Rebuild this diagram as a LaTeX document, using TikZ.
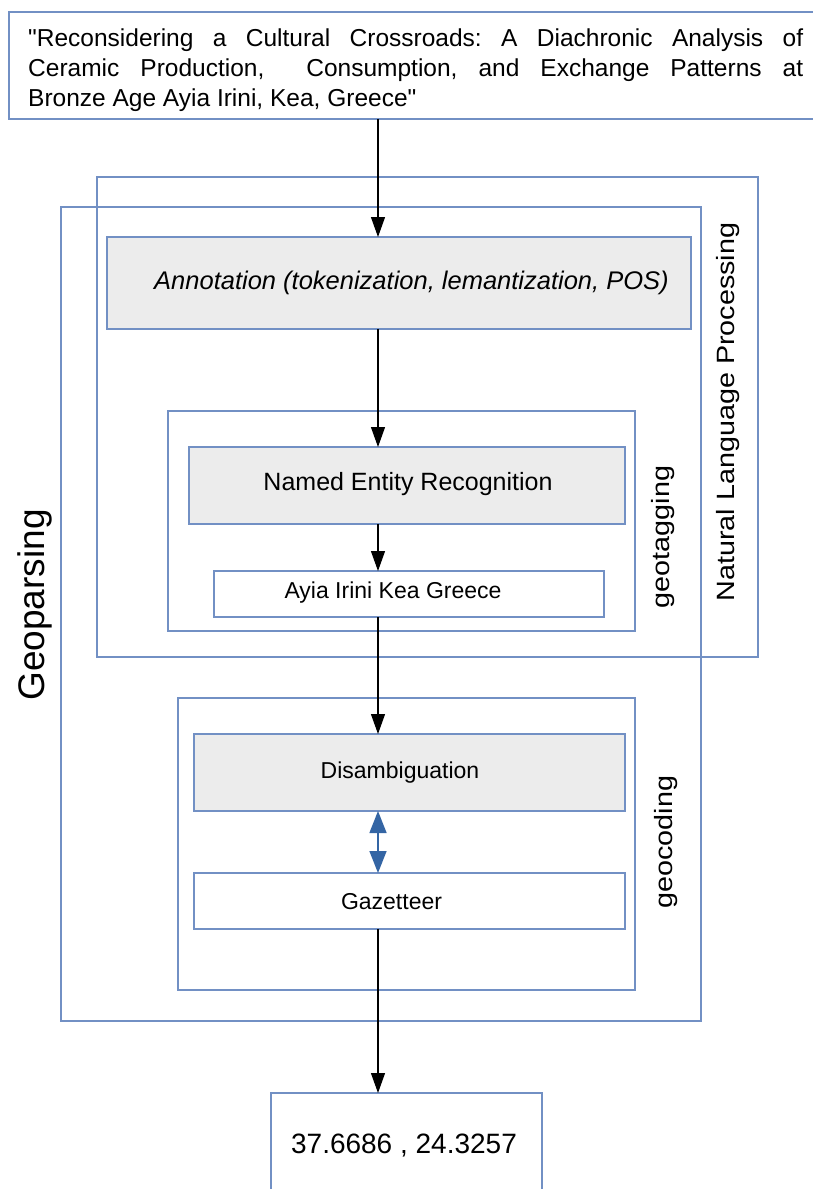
\documentclass[tikz,border=0pt]{standalone}
\usepackage{fontspec}
\usepackage{graphicx}
\setmainfont{Liberation Sans}
\newfontfamily\titlefont{Liberation Sans}[Ligatures=TeXOff]
\usetikzlibrary{arrows.meta}
\definecolor{boxblue}{RGB}{114,144,196}
\definecolor{boxgray}{RGB}{236,236,236}
\definecolor{arrblue}{RGB}{52,101,164}
\begin{document}
\frenchspacing
\begin{tikzpicture}[x=1pt,y=-1pt,
  frame/.style={draw=boxblue, line width=1.3pt, inner sep=0pt, outer sep=0pt, rectangle},
  grayframe/.style={frame, fill=boxgray},
  conn/.style={draw=black, line width=1.2pt, -{Triangle[length=20pt,width=14pt]}},
  dconn/.style={draw=arrblue, fill=arrblue, line width=1.5pt, {Triangle[length=22pt,width=17pt]}-{Triangle[length=22pt,width=17pt]}},
  sidelabel/.style={rotate=90, inner sep=0pt, font=\fontsize{25}{30}\selectfont},
  body/.style={inner sep=0pt, font=\fontsize{23}{28}\selectfont}
]
\useasboundingbox (0,0) rectangle (812,1189);

% frames
\node[frame, minimum width=813pt, minimum height=107pt] (title) at (415.5,65.5) {};
\node[frame, minimum width=661pt, minimum height=480pt] (nlp) at (427.5,417) {};
\node[frame, minimum width=640pt, minimum height=814pt] (geop) at (381,614) {};
\node[grayframe, minimum width=584pt, minimum height=92pt] (ann) at (399,283) {};
\node[frame, minimum width=467pt, minimum height=220pt] (gtag) at (401.5,521) {};
\node[grayframe, minimum width=436pt, minimum height=77pt] (ner) at (407,485.5) {};
\node[frame, minimum width=390pt, minimum height=46pt] (ayia) at (409,594) {};
\node[frame, minimum width=457pt, minimum height=292pt] (gcod) at (406.5,844) {};
\node[grayframe, minimum width=431pt, minimum height=77pt] (dis) at (409.5,772.5) {};
\node[frame, minimum width=431pt, minimum height=56pt] (gaz) at (409.5,901) {};
\node[frame, minimum width=271pt, minimum height=110pt] (res) at (406.5,1148) {};

% texts
\node[anchor=north west, inner sep=0pt, text width=775pt, align=justify,
      font=\titlefont\fontsize{24.5}{30}\selectfont] (titleT) at (28,29)
  {"Reconsidering a Cultural Crossroads: A Diachronic Analysis of\linebreak
   Ceramic Production,\ \ Consumption, and Exchange Patterns at\linebreak
   Bronze Age Ayia Irini, Kea, Greece"};
\node[body, font=\fontsize{25.5}{30}\selectfont\itshape] (annT) at (411.5,283) {Annotation (tokenization, lemantization, POS)};
\node[body, font=\fontsize{25}{30}\selectfont] (nerT) at (408,484) {Named Entity Recognition};
\node[body] (ayiaT) at (393,593) {Ayia Irini Kea Greece};
\node[body] (disT) at (400,773) {Disambiguation};
\node[body] (gazT) at (391.5,902) {Gazetteer};
\node[body, font=\fontsize{28}{32}\selectfont] (resT) at (404,1146) {37.6686 , 24.3257};

% side labels
\node[sidelabel] (nlpL) at (728,412) {\scalebox{1.15}[1]{Natural Language Processing}};
\node[sidelabel] (tagL) at (663,537) {\scalebox{1.15}[1]{geotagging}};
\node[sidelabel] (codL) at (666,842) {\scalebox{1.15}[1]{geocoding}};
\node[sidelabel, font=\fontsize{37}{42}\selectfont] (geoL) at (35,605) {Geoparsing};

% connectors
\coordinate (cx) at (378,0);
\draw[conn] (title.south -| cx) -- (ann.north -| cx);
\draw[conn] (ann.south -| cx) -- (ner.north -| cx);
\draw[conn] (ner.south -| cx) -- (ayia.north -| cx);
\draw[conn] (ayia.south -| cx) -- (dis.north -| cx);
\draw[dconn] (dis.south -| cx) -- (gaz.north -| cx);
\draw[conn] (gaz.south -| cx) -- (res.north -| cx);
\end{tikzpicture}
\end{document}
